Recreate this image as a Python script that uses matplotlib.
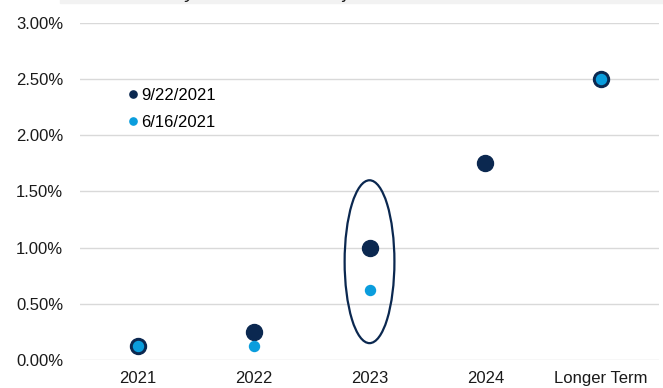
import numpy as np
import matplotlib
matplotlib.use("Agg")
import matplotlib.pyplot as plt
from matplotlib.patches import Ellipse, Rectangle
from matplotlib.ticker import FuncFormatter

plt.rcParams['font.family'] = ['Liberation Sans', 'DejaVu Sans']

categories = ["2021", "2022", "2023", "2024", "Longer Term"]
sep_2021 = [0.125, 0.25, 1.00, 1.75, 2.50]      # 9/22/2021
jun_2021 = [0.125, 0.125, 0.625, np.nan, 2.50]  # 6/16/2021
yticks = [0.0, 0.5, 1.0, 1.5, 2.0, 2.5, 3.0]
title = "Summary of Economic Projections: Median Fed Funds Rate"

dark = "#0B2850"
light = "#0A9DDD"

fig = plt.figure(figsize=(6.63, 3.88), dpi=100)
ax = fig.add_axes([0.1207, 0.0722, 0.8733, 0.8685])

x = np.arange(len(categories))
ax.plot(x, sep_2021, "o", color=dark, ms=11.5, ls="none", label="9/22/2021", zorder=3)
ax.plot(x, jun_2021, "o", color=light, ms=7.2, ls="none", label="6/16/2021", zorder=4)

# circle highlighting 2023
ax.add_patch(Ellipse((2, 0.875), 0.43, 1.45, fill=False, ec=dark, lw=1.6, zorder=5))

ax.set_xlim(-0.5, len(categories) - 0.5)
ax.set_ylim(0, 3)
ax.set_xticks(x)
ax.set_xticklabels(categories)
ax.set_yticks(yticks)
ax.yaxis.set_major_formatter(FuncFormatter(lambda v, p: "%.2f%%" % v))
ax.grid(axis="y", color="#D9D9D9", lw=1)
ax.set_axisbelow(True)
for s in ax.spines.values():
    s.set_visible(False)
ax.tick_params(length=0, labelsize=12, colors="#1a1a1a")
ax.tick_params(axis="x", pad=8)
ax.tick_params(axis="y", pad=12)

leg = ax.legend(loc="upper left", bbox_to_anchor=(0.049, 0.853), frameon=False,
                fontsize=12, handletextpad=-0.12, labelspacing=0.75,
                handlelength=1.2)
for h in leg.legend_handles:
    h.set_markersize(5.2)

# cropped title band at the top
fig.patches.append(Rectangle((0.09, 0.992), 0.91, 0.01, transform=fig.transFigure,
                             color="#F2F2F2", zorder=0))
fig.text(0.56, 1.004, title, ha="center", va="baseline", style="italic",
         fontsize=14, color="#1a1a1a")

fig.savefig("out.png", dpi=100)
